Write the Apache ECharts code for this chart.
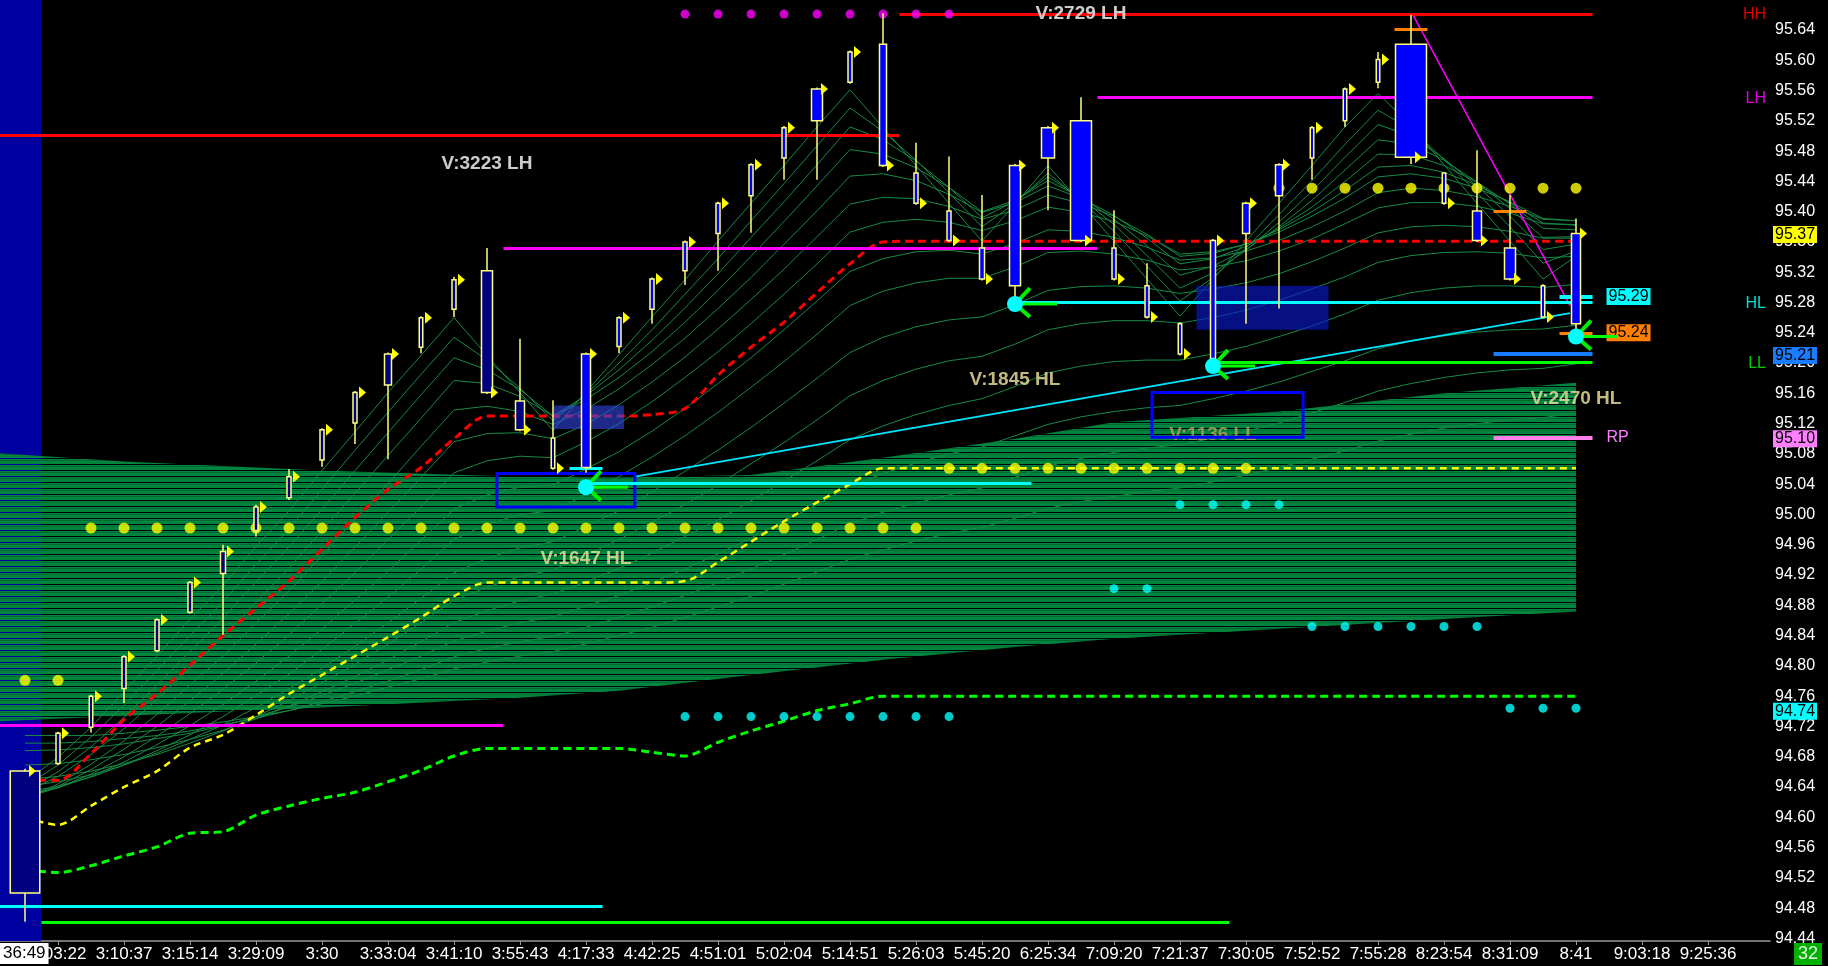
<!DOCTYPE html>
<html>
<head>
<meta charset="utf-8">
<title>Price chart</title>
<script src="https://cdn.jsdelivr.net/npm/echarts@6.0.0/dist/echarts.min.js"></script>
<style>
  html, body { margin: 0; padding: 0; background: #000; }
  #main { width: 1828px; height: 966px; }
</style>
</head>
<body>
<div id="main"></div>
<script>
// axis window (bar index / price)
var X_MIN = -25 / 33;
var X_MAX = X_MIN + 1770 / 33;
var Y_MAX = 95.6796;
var Y_MIN = 94.4366;

var timeLabels = ['3:03:22', '3:10:37', '3:15:14', '3:29:09', '3:30', '3:33:04', '3:41:10', '3:55:43',
    '4:17:33', '4:42:25', '4:51:01', '5:02:04', '5:14:51', '5:26:03', '5:45:20', '6:25:34', '7:09:20',
    '7:21:37', '7:30:05', '7:52:52', '7:55:28', '8:23:54', '8:31:09', '8:41', '9:03:18', '9:25:36'];
var labelBars = [1, 3, 5, 7, 9, 11, 13, 15, 17, 19, 21, 23, 25, 27, 29, 31, 33, 35, 37, 39, 41, 43, 45, 47, 49, 51];
var priceTicks = [94.44, 94.48, 94.52, 94.56, 94.60, 94.64, 94.68, 94.72, 94.76, 94.80, 94.84, 94.88,
    94.92, 94.96, 95.00, 95.04, 95.08, 95.12, 95.16, 95.20, 95.24, 95.28, 95.32, 95.36, 95.40, 95.44,
    95.48, 95.52, 95.56, 95.60, 95.64, 95.68];

// open, close, low, high
var ohlc = [
    [94.500, 94.661, 94.462, 94.664], [94.671, 94.711, 94.669, 94.713], [94.719, 94.760, 94.712, 94.762],
    [94.770, 94.812, 94.751, 94.814], [94.820, 94.861, 94.818, 94.863], [94.871, 94.910, 94.869, 94.912],
    [94.922, 94.951, 94.841, 94.960], [94.979, 95.010, 94.971, 95.013], [95.022, 95.050, 95.019, 95.060],
    [95.072, 95.112, 95.063, 95.114], [95.121, 95.161, 95.093, 95.163], [95.171, 95.212, 95.073, 95.214],
    [95.221, 95.260, 95.213, 95.262], [95.271, 95.310, 95.261, 95.314], [95.322, 95.161, 95.159, 95.352],
    [95.150, 95.112, 95.110, 95.232], [95.101, 95.061, 95.059, 95.151], [95.062, 95.212, 95.055, 95.214],
    [95.222, 95.260, 95.213, 95.262], [95.271, 95.311, 95.252, 95.313], [95.322, 95.360, 95.303, 95.362],
    [95.371, 95.411, 95.322, 95.413], [95.421, 95.462, 95.372, 95.464], [95.471, 95.511, 95.442, 95.513],
    [95.520, 95.562, 95.442, 95.564], [95.571, 95.611, 95.569, 95.613], [95.621, 95.461, 95.459, 95.662],
    [95.451, 95.411, 95.409, 95.491], [95.401, 95.362, 95.360, 95.473], [95.352, 95.311, 95.309, 95.422],
    [95.302, 95.461, 95.287, 95.463], [95.471, 95.511, 95.402, 95.513], [95.520, 95.362, 95.360, 95.551],
    [95.352, 95.311, 95.309, 95.402], [95.302, 95.261, 95.259, 95.332], [95.252, 95.212, 95.210, 95.254],
    [95.206, 95.362, 95.196, 95.364], [95.371, 95.411, 95.252, 95.413], [95.421, 95.462, 95.272, 95.464],
    [95.471, 95.511, 95.442, 95.513], [95.520, 95.562, 95.512, 95.564], [95.571, 95.601, 95.563, 95.611],
    [95.621, 95.472, 95.463, 95.660], [95.451, 95.411, 95.409, 95.451], [95.401, 95.362, 95.360, 95.481],
    [95.352, 95.311, 95.309, 95.422], [95.302, 95.261, 95.259, 95.304], [95.252, 95.371, 95.240, 95.391]
];
var volume = [2950, 400, 350, 400, 400, 400, 500, 400, 400, 400, 400, 700, 350, 400, 1100, 900, 350, 900,
    400, 400, 400, 400, 400, 400, 1100, 400, 700, 400, 400, 500, 1100, 1300, 2100, 400, 400, 350, 500, 700,
    700, 350, 350, 350, 3100, 350, 900, 1100, 350, 900];

// trailing stop lines
var redTrail = [94.649, 94.649, 94.684, 94.729, 94.763, 94.801, 94.840, 94.876, 94.912, 94.954, 94.996,
    95.033, 95.062, 95.100, 95.130, 95.130, 95.130, 95.130, 95.130, 95.132, 95.140, 95.184, 95.221, 95.254,
    95.293, 95.331, 95.360, 95.361, 95.361, 95.361, 95.361, 95.361, 95.361, 95.361, 95.361, 95.361, 95.361,
    95.361, 95.361, 95.361, 95.361, 95.361, 95.361, 95.361, 95.361, 95.361, 95.361, 95.361];
var yellowTrail = [94.600, 94.590, 94.615, 94.640, 94.661, 94.692, 94.709, 94.735, 94.763, 94.788, 94.813,
    94.838, 94.864, 94.892, 94.910, 94.910, 94.910, 94.910, 94.910, 94.910, 94.912, 94.937, 94.964, 94.991,
    95.016, 95.040, 95.061, 95.061, 95.061, 95.061, 95.061, 95.061, 95.061, 95.061, 95.061, 95.061, 95.061,
    95.061, 95.061, 95.061, 95.061, 95.061, 95.061, 95.061, 95.061, 95.061, 95.061, 95.061];
var greenTrail = [94.531, 94.527, 94.536, 94.549, 94.561, 94.579, 94.581, 94.603, 94.615, 94.625, 94.633,
    94.647, 94.662, 94.681, 94.691, 94.691, 94.691, 94.691, 94.691, 94.686, 94.681, 94.699, 94.714, 94.727,
    94.741, 94.750, 94.760, 94.760, 94.760, 94.760, 94.760, 94.760, 94.760, 94.760, 94.760, 94.760, 94.760,
    94.760, 94.760, 94.760, 94.760, 94.760, 94.760, 94.760, 94.760, 94.760, 94.760, 94.760];

// ribbon lines, fast to slow
var ribbon1 = [94.647, 94.679, 94.719, 94.766, 94.813, 94.862, 94.906, 94.958, 95.005, 95.058, 95.109, 95.161,
    95.210, 95.260, 95.210, 95.161, 95.111, 95.162, 95.211, 95.261, 95.310, 95.361, 95.411, 95.461, 95.512,
    95.561, 95.511, 95.461, 95.411, 95.361, 95.410, 95.461, 95.411, 95.361, 95.311, 95.262, 95.311, 95.361,
    95.411, 95.461, 95.512, 95.556, 95.514, 95.462, 95.411, 95.361, 95.311, 95.341];
var ribbon2 = [94.641, 94.669, 94.706, 94.748, 94.794, 94.840, 94.885, 94.934, 94.981, 95.033, 95.085, 95.135,
    95.185, 95.234, 95.204, 95.167, 95.124, 95.159, 95.200, 95.244, 95.291, 95.338, 95.388, 95.437, 95.487,
    95.537, 95.506, 95.468, 95.425, 95.380, 95.411, 95.451, 95.415, 95.374, 95.328, 95.282, 95.313, 95.352,
    95.396, 95.441, 95.489, 95.534, 95.509, 95.469, 95.425, 95.380, 95.332, 95.348];
var ribbon3 = [94.635, 94.660, 94.693, 94.732, 94.775, 94.819, 94.863, 94.911, 94.957, 95.007, 95.058, 95.108,
    95.158, 95.207, 95.191, 95.165, 95.130, 95.157, 95.191, 95.230, 95.273, 95.318, 95.366, 95.413, 95.462,
    95.512, 95.495, 95.467, 95.432, 95.392, 95.414, 95.446, 95.418, 95.383, 95.342, 95.299, 95.319, 95.349,
    95.386, 95.427, 95.472, 95.515, 95.500, 95.470, 95.434, 95.394, 95.350, 95.357];
var ribbon4 = [94.633, 94.654, 94.683, 94.717, 94.756, 94.797, 94.839, 94.884, 94.929, 94.979, 95.028, 95.078,
    95.127, 95.177, 95.173, 95.156, 95.130, 95.152, 95.181, 95.215, 95.254, 95.296, 95.341, 95.387, 95.434,
    95.482, 95.476, 95.458, 95.432, 95.400, 95.415, 95.441, 95.419, 95.390, 95.355, 95.316, 95.328, 95.350,
    95.380, 95.415, 95.455, 95.495, 95.489, 95.468, 95.439, 95.404, 95.366, 95.367];
var ribbon5 = [94.625, 94.644, 94.670, 94.701, 94.736, 94.775, 94.813, 94.857, 94.899, 94.946, 94.994, 95.041,
    95.090, 95.138, 95.143, 95.136, 95.119, 95.139, 95.166, 95.198, 95.233, 95.272, 95.313, 95.357, 95.401,
    95.447, 95.450, 95.441, 95.423, 95.399, 95.412, 95.434, 95.418, 95.395, 95.365, 95.331, 95.338, 95.354,
    95.378, 95.406, 95.440, 95.476, 95.475, 95.461, 95.439, 95.410, 95.378, 95.376];
var ribbon6 = [94.626, 94.641, 94.663, 94.690, 94.720, 94.754, 94.790, 94.829, 94.869, 94.912, 94.957, 95.003,
    95.049, 95.096, 95.107, 95.108, 95.100, 95.119, 95.145, 95.175, 95.208, 95.245, 95.284, 95.324, 95.367,
    95.410, 95.419, 95.417, 95.407, 95.390, 95.402, 95.422, 95.411, 95.394, 95.370, 95.341, 95.345, 95.357,
    95.376, 95.400, 95.428, 95.459, 95.461, 95.452, 95.435, 95.412, 95.385, 95.382];
var ribbon7 = [94.626, 94.639, 94.657, 94.680, 94.707, 94.737, 94.769, 94.804, 94.841, 94.882, 94.923, 94.967,
    95.010, 95.055, 95.071, 95.077, 95.075, 95.096, 95.120, 95.149, 95.181, 95.215, 95.252, 95.291, 95.331,
    95.373, 95.386, 95.390, 95.386, 95.375, 95.388, 95.406, 95.399, 95.387, 95.368, 95.344, 95.347, 95.357,
    95.373, 95.394, 95.418, 95.446, 95.450, 95.444, 95.431, 95.413, 95.391, 95.388];
var ribbon8 = [94.629, 94.639, 94.654, 94.673, 94.696, 94.721, 94.749, 94.780, 94.813, 94.849, 94.887, 94.925,
    94.966, 95.007, 95.026, 95.036, 95.039, 95.060, 95.083, 95.110, 95.140, 95.173, 95.207, 95.244, 95.282,
    95.321, 95.338, 95.347, 95.349, 95.344, 95.358, 95.376, 95.374, 95.366, 95.353, 95.336, 95.339, 95.348,
    95.362, 95.380, 95.401, 95.425, 95.431, 95.428, 95.420, 95.407, 95.390, 95.388];
var ribbon9 = [94.633, 94.641, 94.653, 94.669, 94.688, 94.709, 94.733, 94.761, 94.789, 94.822, 94.856, 94.891,
    94.928, 94.967, 94.987, 95.000, 95.005, 95.026, 95.050, 95.076, 95.104, 95.135, 95.168, 95.202, 95.238,
    95.276, 95.295, 95.306, 95.312, 95.312, 95.327, 95.346, 95.348, 95.344, 95.336, 95.323, 95.327, 95.335,
    95.348, 95.364, 95.384, 95.405, 95.412, 95.412, 95.407, 95.398, 95.384, 95.383];
var ribbon10 = [94.641, 94.647, 94.656, 94.669, 94.685, 94.703, 94.722, 94.745, 94.770, 94.797, 94.826, 94.857,
    94.889, 94.923, 94.942, 94.956, 94.964, 94.984, 95.005, 95.030, 95.057, 95.085, 95.115, 95.147, 95.180,
    95.214, 95.234, 95.248, 95.257, 95.261, 95.277, 95.296, 95.301, 95.302, 95.299, 95.292, 95.298, 95.306,
    95.318, 95.334, 95.352, 95.372, 95.380, 95.382, 95.380, 95.374, 95.365, 95.365];
var ribbon11 = [94.650, 94.654, 94.661, 94.671, 94.683, 94.698, 94.714, 94.733, 94.754, 94.778, 94.802, 94.829,
    94.857, 94.887, 94.904, 94.918, 94.927, 94.946, 94.967, 94.990, 95.013, 95.039, 95.067, 95.095, 95.125,
    95.157, 95.177, 95.192, 95.203, 95.209, 95.225, 95.244, 95.252, 95.256, 95.256, 95.253, 95.260, 95.270,
    95.283, 95.298, 95.314, 95.333, 95.342, 95.346, 95.347, 95.345, 95.339, 95.341];
var ribbon12 = [94.669, 94.671, 94.676, 94.683, 94.692, 94.703, 94.715, 94.730, 94.747, 94.766, 94.786, 94.808,
    94.832, 94.857, 94.873, 94.886, 94.895, 94.911, 94.929, 94.949, 94.971, 94.993, 95.018, 95.044, 95.071,
    95.099, 95.117, 95.132, 95.144, 95.153, 95.169, 95.187, 95.196, 95.202, 95.204, 95.204, 95.212, 95.222,
    95.235, 95.249, 95.265, 95.283, 95.293, 95.299, 95.302, 95.302, 95.300, 95.304];
var ribbon13 = [94.688, 94.689, 94.692, 94.697, 94.704, 94.711, 94.721, 94.733, 94.746, 94.761, 94.777, 94.795,
    94.813, 94.833, 94.846, 94.857, 94.865, 94.879, 94.893, 94.910, 94.928, 94.948, 94.969, 94.991, 95.013,
    95.037, 95.054, 95.068, 95.080, 95.089, 95.104, 95.119, 95.129, 95.136, 95.141, 95.144, 95.153, 95.163,
    95.175, 95.189, 95.203, 95.219, 95.229, 95.236, 95.241, 95.244, 95.245, 95.250];
var ribbon14 = [94.698, 94.698, 94.700, 94.704, 94.708, 94.714, 94.722, 94.731, 94.741, 94.753, 94.766, 94.780,
    94.795, 94.812, 94.823, 94.832, 94.839, 94.851, 94.864, 94.878, 94.893, 94.910, 94.928, 94.947, 94.967,
    94.988, 95.003, 95.015, 95.026, 95.035, 95.049, 95.064, 95.074, 95.082, 95.088, 95.092, 95.101, 95.110,
    95.121, 95.134, 95.148, 95.163, 95.173, 95.181, 95.187, 95.191, 95.193, 95.199];
var ribbon15 = [94.708, 94.708, 94.708, 94.711, 94.715, 94.720, 94.726, 94.733, 94.741, 94.750, 94.760, 94.772,
    94.783, 94.796, 94.805, 94.813, 94.819, 94.829, 94.840, 94.851, 94.864, 94.878, 94.892, 94.908, 94.924,
    94.941, 94.953, 94.965, 94.975, 94.983, 94.995, 95.008, 95.017, 95.024, 95.030, 95.035, 95.043, 95.052,
    95.062, 95.073, 95.084, 95.097, 95.106, 95.114, 95.120, 95.125, 95.128, 95.134];

// dense slow band edges
var bandBars = [X_MIN, 3, 9, 15, 18, 22, 26, 30, 33, 38, 43, 47];
var bandTop = [95.081, 95.070, 95.058, 95.050, 95.049, 95.052, 95.075, 95.100, 95.122, 95.136, 95.160, 95.174];
var bandBottom = [94.727, 94.734, 94.745, 94.758, 94.767, 94.788, 94.808, 94.825, 94.836, 94.849, 94.862, 94.872];

// dot rows: [price, bars]
var yellowDotRows = [
    [94.781, [0, 1]],
    [94.982, [2, 3, 4, 5, 6, 7, 8, 9, 10, 11, 12, 13, 14, 15, 16, 17, 18, 19, 20, 21, 22, 23, 24, 25, 26, 27]],
    [95.061, [28, 29, 30, 31, 32, 33, 34, 35, 36, 37]],
    [95.431, [38, 39, 40, 41, 42, 43, 44, 45, 46, 47]]
];
var cyanDotRows = [
    [95.013, [35, 36, 37, 38]],
    [94.902, [33, 34]],
    [94.852, [39, 40, 41, 42, 43, 44]],
    [94.744, [45, 46, 47]],
    [94.733, [20, 21, 22, 23, 24, 25, 26, 27, 28]]
];
var magentaDotRows = [[95.661, [20, 21, 22, 23, 24, 25, 26, 27, 28]]];

// horizontal levels: [fromBar, toBar, price]
var redLevels = [[X_MIN, 26.5, 95.501], [26.5, 47.5, 95.661]];
var magentaLevels = [[X_MIN, 14.5, 94.721], [14.5, 32.5, 95.352], [32.5, 47.5, 95.551]];
var cyanLevels = [[X_MIN, 17.5, 94.482], [17, 30.5, 95.041], [30, 47.5, 95.280], [16.5, 17.5, 95.061]];
var greenLevels = [[0.5, 36.5, 94.462], [36, 47.5, 95.201]];
var orangeLevels = [[41.5, 42.5, 95.641], [44.5, 45.5, 95.401]];
var blueLevels = [[44.5, 47.5, 95.212]];
var pinkLevels = [[44.5, 47.5, 95.102]];
var cyanTag = [46.5, 47.5, 95.288];
var orangeTag = [46.5, 47.5, 95.240];
var axisTags = [95.37, 95.21, 95.10, 94.74];
var sideMarks = [['HH', 95.661], ['LH', 95.551], ['HL', 95.280], ['LL', 95.201]];

var magentaDiag = [[42.06, 95.660], [46.82, 95.276]];
var cyanDiag = [[18.48, 95.050], [46.82, 95.266]];

// swing pivots and their notes
var pivots = [[17, 95.036], [30, 95.278], [36, 95.196], [47, 95.235]];
var notes = [
    [14, 95.463, 'V:3223 LH'], [32, 95.661, 'V:2729 LH'], [17, 94.942, 'V:1647 HL'],
    [30, 95.178, 'V:1845 HL'], [47, 95.153, 'V:2470 HL']
];
var lowNotes = [[36, 95.105, 'V:1136 LL']];
// boxes: [x1, x2, y1, y2]
var outlineBoxes = [[14.3, 18.48, 95.010, 95.054], [34.15, 38.73, 95.102, 95.161]];
var shadeBoxes = [[16.03, 18.15, 95.113, 95.144], [35.5, 39.5, 95.244, 95.302]];

function rowsToPoints(rows) {
    var out = [];
    rows.forEach(function (r) {
        r[1].forEach(function (b) { out.push([b, r[0]]); });
    });
    return out;
}
function series(arr) {
    return arr.map(function (v, i) { return [i, v]; });
}
function segs(list, style) {
    return list.map(function (s) {
        return [{ coord: [s[0], s[2]], lineStyle: style }, { coord: [s[1], s[2]] }];
    });
}

// horizontal line texture of the packed slow averages
function makeTexture() {
    var cv = document.createElement('canvas');
    cv.width = 8;
    cv.height = 6;
    var g = cv.getContext('2d');
    var rows = ['#00843e', '#00843e', null, '#00843e', '#006c33', '#00843e'];
    rows.forEach(function (c, y) {
        if (c) {
            g.fillStyle = c;
            g.fillRect(0, y, 8, 1);
        }
    });
    return cv;
}
var bandPattern = { image: makeTexture(), repeat: 'repeat' };

function drawBand(params, api) {
    var pts = [];
    bandBars.forEach(function (b, k) { pts.push(api.coord([b, bandTop[k]])); });
    for (var k = bandBars.length - 1; k >= 0; k--) {
        pts.push(api.coord([bandBars[k], bandBottom[k]]));
    }
    return { type: 'polygon', shape: { points: pts }, style: { fill: bandPattern } };
}

function drawCandle(params, api) {
    var bar = api.value(0);
    var pO = api.coord([bar, api.value(1)]);
    var pC = api.coord([bar, api.value(2)]);
    var pL = api.coord([bar, api.value(3)]);
    var pH = api.coord([bar, api.value(4)]);
    var w = Math.max(3, api.value(5) / 100);
    var x = pO[0];
    var top = Math.min(pO[1], pC[1]);
    var h = Math.max(1, Math.abs(pO[1] - pC[1]));
    return {
        type: 'group',
        children: [
            { type: 'line', shape: { x1: x, y1: pH[1], x2: x, y2: pL[1] }, style: { stroke: '#ffff80', lineWidth: 1.5 } },
            { type: 'rect', shape: { x: x - w / 2, y: top, width: w, height: h },
                style: { fill: bar < 17 ? '#000080' : '#0000ff', stroke: '#ffff80', lineWidth: 1.5 } },
            { type: 'polygon', shape: { points: [[x + 4, pC[1] - 6], [x + 11, pC[1]], [x + 4, pC[1] + 6]] },
                style: { fill: '#ffff00' } }
        ]
    };
}

function drawPivot(params, api) {
    var p = api.coord([api.value(0), api.value(1)]);
    return {
        type: 'group',
        children: [
            { type: 'line', shape: { x1: p[0], y1: p[1], x2: p[0] + 42, y2: p[1] }, style: { stroke: '#00ff00', lineWidth: 3 } },
            { type: 'polyline', shape: { points: [[p[0] + 15, p[1] - 16], [p[0], p[1]], [p[0] + 15, p[1] + 13]] },
                style: { stroke: '#00ee00', lineWidth: 4, fill: null } },
            { type: 'circle', shape: { cx: p[0], cy: p[1], r: 8 }, style: { fill: '#00ffff' } }
        ]
    };
}

function noteSeries(list, z) {
    return {
        type: 'scatter', symbolSize: 0, z: z, silent: true,
        data: list.map(function (n) {
            var kind = n[2].slice(-2);
            return { value: [n[0], n[1]], name: n[2],
                label: { color: kind === 'LH' ? '#ffffff' : (kind === 'LL' ? '#b8a45c' : '#f2e6a0') } };
        }),
        label: { show: true, position: 'inside', formatter: '{b}', fontSize: 19, fontWeight: 'bold' }
    };
}

var ribbons = [ribbon1, ribbon2, ribbon3, ribbon4, ribbon5, ribbon6, ribbon7, ribbon8, ribbon9, ribbon10,
    ribbon11, ribbon12, ribbon13, ribbon14, ribbon15];
var ribbonSeries = ribbons.map(function (r) {
    return {
        type: 'line', data: series(r), showSymbol: false, z: 2, silent: true,
        lineStyle: { color: '#168a45', width: 1 }
    };
});

var levelLines = [].concat(
    segs(redLevels, { color: '#ff0000', width: 3 }),
    segs(magentaLevels, { color: '#ff00ff', width: 3 }),
    segs(cyanLevels, { color: '#00ffff', width: 3 }),
    segs(greenLevels, { color: '#00ff00', width: 3 }),
    segs(orangeLevels, { color: '#ff8000', width: 3 }),
    segs(blueLevels, { color: '#1a7cff', width: 4 }),
    segs(pinkLevels, { color: '#ff80e8', width: 4 })
);
levelLines[levelLines.length - 1][0].label = { show: true, position: 'end', distance: 14, formatter: 'RP',
    color: '#ff80ff', fontSize: 16 };
var cyanTagLine = segs([cyanTag], { color: '#00ffff', width: 4 })[0];
cyanTagLine[0].label = { show: true, position: 'end', distance: 14, formatter: cyanTag[2].toFixed(2),
    backgroundColor: '#00ffff', color: '#000', fontSize: 16, padding: [1, 2, 0, 2] };
var orangeTagLine = segs([orangeTag], { color: '#ff8000', width: 3 })[0];
orangeTagLine[0].label = { show: true, position: 'end', distance: 14, formatter: orangeTag[2].toFixed(2),
    backgroundColor: '#ff8000', color: '#000', fontSize: 16, padding: [1, 2, 0, 2] };
levelLines.push(cyanTagLine, orangeTagLine);

var tagColors = ['#ffff00', '#1a7cff', '#ff80ff', '#00ffff'];
var tagItems = axisTags.map(function (v, k) {
    return [{ coord: [X_MIN, v], lineStyle: { color: 'rgba(0,0,0,0)', width: 1 },
        label: { show: true, position: 'end', distance: 3, formatter: v.toFixed(2), backgroundColor: tagColors[k],
            color: '#000', fontSize: 16, padding: [1, 2, 0, 2] } }, { coord: [X_MAX, v] }];
});
var sideColors = ['#e00000', '#e000e0', '#00dede', '#00cc00'];
var sideItems = sideMarks.map(function (m, k) {
    return [{ coord: [X_MIN, m[1]], lineStyle: { color: 'rgba(0,0,0,0)', width: 1 },
        label: { show: true, position: 'insideEndTop', distance: [4, -9], formatter: m[0], color: sideColors[k],
            fontSize: 16 } }, { coord: [X_MAX, m[1]] }];
});

var option = {
    backgroundColor: '#000',
    animation: false,
    textStyle: { fontFamily: '"Liberation Sans", Arial, sans-serif' },
    grid: { left: 0, right: 58, top: 0, bottom: 25, containLabel: false, outerBoundsMode: 'none' },
    xAxis: {
        type: 'value', min: X_MIN, max: X_MAX,
        splitLine: { show: false },
        axisLine: { show: true, lineStyle: { color: '#9a9a9a', width: 1.5 } },
        axisTick: { show: true, customValues: labelBars, length: 4, lineStyle: { color: '#9a9a9a' } },
        axisLabel: {
            customValues: labelBars, margin: 5, color: '#ffffff', fontSize: 17,
            formatter: function (v) {
                var k = labelBars.indexOf(Math.round(v));
                return k < 0 ? '' : timeLabels[k];
            }
        }
    },
    yAxis: {
        type: 'value', position: 'right', min: Y_MIN, max: Y_MAX, scale: true,
        splitLine: { show: false },
        axisLine: { show: true, lineStyle: { color: '#9a9a9a', width: 1.5 } },
        axisTick: { show: true, customValues: priceTicks, length: 4, lineStyle: { color: '#9a9a9a' } },
        axisLabel: {
            customValues: priceTicks, margin: 5, color: '#ffffff', fontSize: 16,
            formatter: function (v) { return v.toFixed(2); }
        }
    },
    series: [
        {
            // cursor highlight column
            type: 'line', data: [], z: 1, silent: true,
            markArea: { silent: true, z: 1, itemStyle: { color: '#0000a0' }, data: [[{ xAxis: X_MIN }, { xAxis: 0.485 }]] }
        },
        {
            // dense slow part of the ribbon
            type: 'custom', renderItem: drawBand, z: 2, silent: true, clip: true,
            encode: { x: 0, y: 1 }, data: [[0, 95.0]]
        }
    ].concat(ribbonSeries, [
        {
            type: 'line', data: [], z: 3, silent: true,
            markLine: { silent: true, z: 5, symbol: ['none', 'none'], label: { show: false },
                lineStyle: { type: 'solid' }, data: levelLines.concat(tagItems, sideItems) }
        },
        { type: 'line', data: magentaDiag, showSymbol: false, z: 3, silent: true, lineStyle: { color: '#ff00ff', width: 1.5 } },
        { type: 'line', data: cyanDiag, showSymbol: false, z: 3, silent: true, lineStyle: { color: '#00e5ff', width: 2 } },
        { type: 'line', data: series(redTrail), smooth: 0.3, showSymbol: false, z: 4, silent: true,
            lineStyle: { color: '#ff0000', width: 3, type: [8, 5] } },
        { type: 'line', data: series(yellowTrail), smooth: 0.3, showSymbol: false, z: 4, silent: true,
            lineStyle: { color: '#ffff00', width: 2.5, type: [7, 5] } },
        { type: 'line', data: series(greenTrail), smooth: 0.3, showSymbol: false, z: 4, silent: true,
            lineStyle: { color: '#00ff00', width: 3, type: [8, 5] } },
        noteSeries(lowNotes, 4),
        {
            type: 'scatter', data: [], z: 5, silent: true,
            markArea: {
                silent: true, z: 5,
                data: shadeBoxes.map(function (b, k) {
                    return [{ coord: [b[0], b[2]], itemStyle: { color: k === 0 ? 'rgba(50,70,230,0.6)' : 'rgba(10,25,200,0.65)' } },
                        { coord: [b[1], b[3]] }];
                }).concat(outlineBoxes.map(function (b) {
                    return [{ coord: [b[0], b[2]], itemStyle: { color: 'rgba(0,0,0,0)', borderColor: '#0000ff', borderWidth: 3 } },
                        { coord: [b[1], b[3]] }];
                }))
            }
        },
        { type: 'scatter', data: rowsToPoints(yellowDotRows), symbolSize: 11, z: 5, silent: true, itemStyle: { color: '#ffff00' } },
        { type: 'scatter', data: rowsToPoints(cyanDotRows), symbolSize: 9, z: 5, silent: true, itemStyle: { color: '#00ffff' } },
        { type: 'scatter', data: rowsToPoints(magentaDotRows), symbolSize: 9, z: 5, silent: true, itemStyle: { color: '#ff00ff' } },
        {
            type: 'custom', renderItem: drawCandle, z: 6, silent: true,
            encode: { x: 0, y: [1, 2, 3, 4] },
            data: ohlc.map(function (d, i) { return [i, d[0], d[1], d[2], d[3], volume[i]]; })
        },
        { type: 'custom', renderItem: drawPivot, z: 7, silent: true, encode: { x: 0, y: 1 }, data: pivots },
        noteSeries(notes, 7)
    ]),
    graphic: [
        {
            type: 'text', left: 0, top: 943, z: 100,
            style: { text: '36:49', fill: '#000', backgroundColor: '#ffffff', padding: [2, 3, 2, 3],
                font: '17px "Liberation Sans", Arial, sans-serif' }
        },
        {
            type: 'text', right: 6, top: 943, z: 100,
            style: { text: '32', fill: '#e8ffe8', backgroundColor: '#00b000', padding: [2, 4, 2, 4],
                font: '18px "Liberation Sans", Arial, sans-serif' }
        }
    ]
};

var chart = echarts.init(document.getElementById('main'));
chart.setOption(option);
</script>
</body>
</html>
